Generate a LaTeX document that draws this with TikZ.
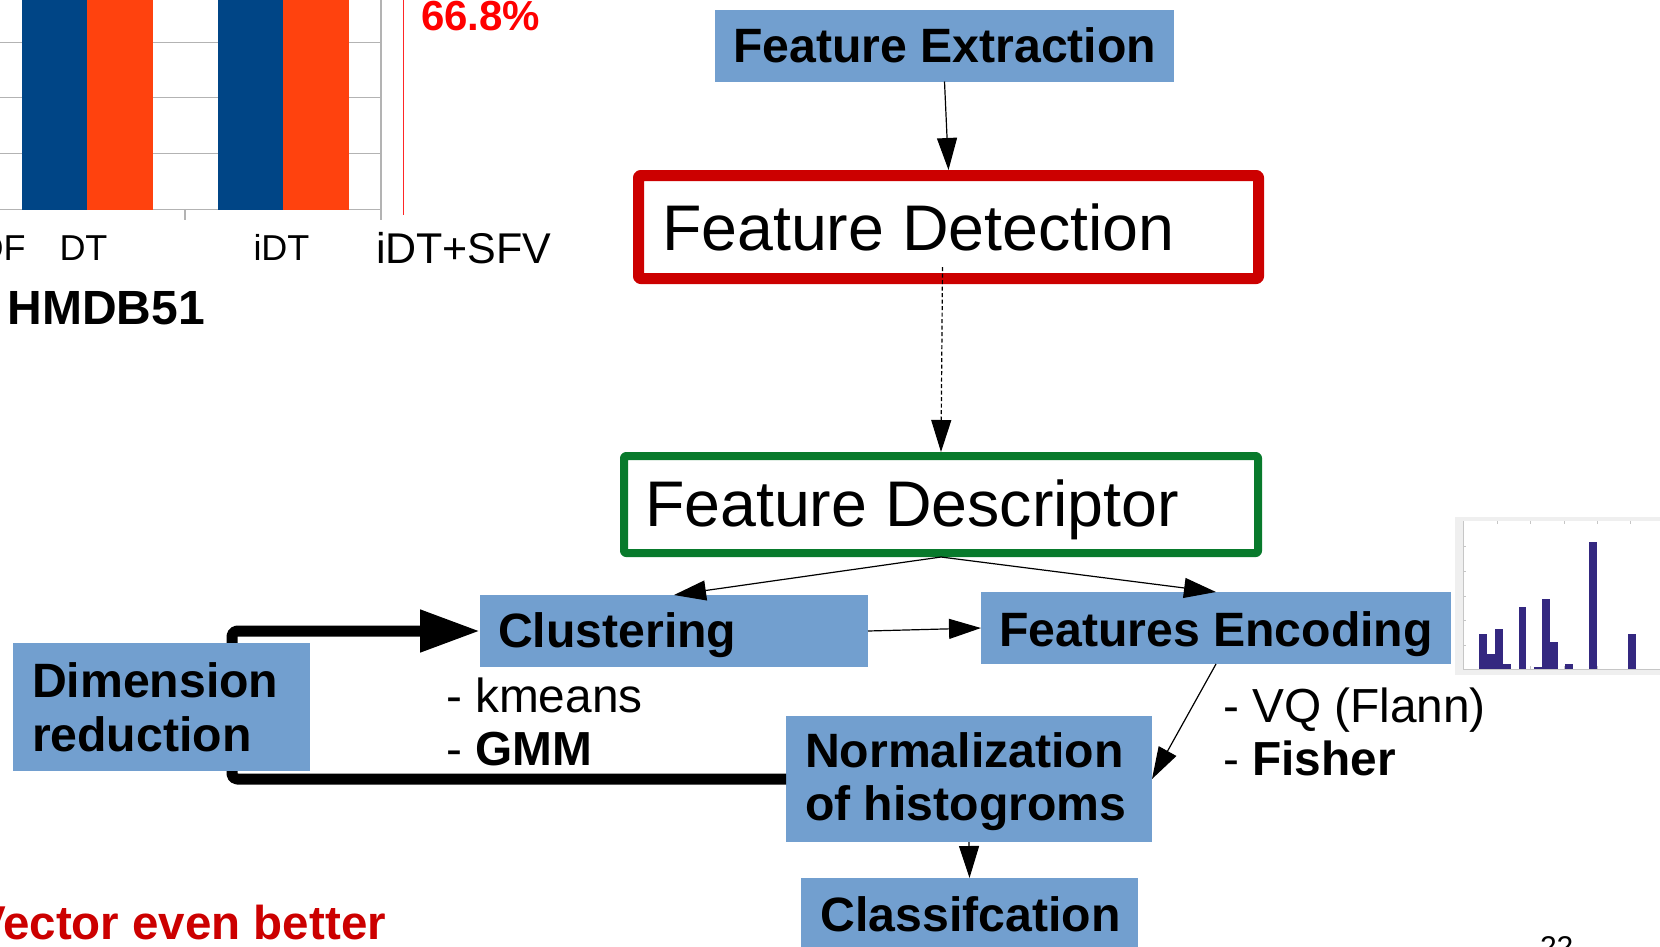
\documentclass[tikz,border=0pt]{standalone}
\usepackage{fontspec}
\setmainfont{Liberation Sans}
\usetikzlibrary{arrows.meta,calc}
\definecolor{boxblue}{HTML}{729FCF}
\definecolor{detred}{HTML}{CC0000}
\definecolor{descgreen}{RGB}{8,122,44}
\definecolor{barblue}{HTML}{004586}
\definecolor{barorange}{HTML}{FF420E}
\definecolor{gridgray}{HTML}{B3B3B3}
\definecolor{histbar}{RGB}{52,40,128}
\definecolor{histframe}{HTML}{EFEFEF}
\newcommand\setfs[1]{\fontsize{#1}{#1}\selectfont}
\begin{document}
\begin{tikzpicture}[x=1pt,y=-1pt,line join=round,
  blockbox/.style={fill=boxblue,draw=none,inner sep=0pt,outer sep=0pt},
  framebox/.style={draw,fill=white,rounded corners=2pt,inner sep=0pt},
  lbl/.style={anchor=base west,inner sep=0pt,outer sep=0pt},
  bigtext/.style={lbl,font=\setfs{64.5}},
  boldtext/.style={lbl,font=\setfs{48.2}\bfseries},
  plaintext/.style={lbl,font=\setfs{47.8}},
  flow/.style={-{Triangle[length=32pt,width=20pt]},line width=1.2pt},
  loopline/.style={-{Triangle[length=60pt,width=40pt]},line width=11pt,rounded corners=5pt}]
\useasboundingbox (0,0) rectangle (1660,946);

% ---- bar chart (top left) ----
\foreach \gy in {42.3,97.4,153.5}
  \draw[gridgray,line width=1.2pt] (0,\gy) -- (381,\gy);
\draw[gridgray,line width=1.2pt] (0,209.6) -- (381,209.6);
\draw[gridgray,line width=1.2pt] (381,-2) -- (381,220);
\draw[gridgray,line width=1.2pt] (185,209.6) -- (185,220);
\fill[barblue]   (22,-5)  rectangle (87,209.6);
\fill[barorange] (87,-5)  rectangle (153,209.6);
\fill[barblue]   (218,-5) rectangle (283,209.6);
\fill[barorange] (283,-5) rectangle (349,209.6);
\draw[red!85!white,line width=1pt] (403.6,-2) -- (403.6,215);
\node[lbl,anchor=base east,font=\setfs{36}] (catof) at (25.5,260) {OF};
\node[lbl,font=\setfs{36}] (catdt) at (59.5,260) {DT};
\node[lbl,font=\setfs{36}] (catidt) at (253.5,260) {iDT};
\node[lbl,font=\setfs{43}] (catsfv) at (376,263) {iDT+SFV};
\node[lbl,font=\setfs{48}\bfseries] (dataset) at (7.5,324) {HMDB51};
\node[lbl,font=\setfs{42}\bfseries,text=red] (score) at (421,30) {66.8\%};

% ---- histogram thumbnail ----
\fill[histframe] (1455,517) rectangle (1670,675);
\fill[white] (1463,521) rectangle (1670,669);
\draw[gray!45,line width=0.6pt] (1463,521) -- (1463,669) -- (1670,669);
\foreach \tx in {1497,1530,1564,1597,1630}
  \draw[gray!45,line width=0.5pt] (\tx,669) -- (\tx,666) (\tx,521) -- (\tx,524);
\foreach \ty in {546,571,596,620,645}
  \draw[gray!45,line width=0.5pt] (1463,\ty) -- (1466,\ty);
\foreach \xa/\xb/\top in {1479.3/1487.3/634.3, 1487.3/1495.3/654, 1495.3/1503.3/629.3,
    1503.3/1510.7/664, 1518.7/1526.3/607, 1534.3/1542/666.7, 1542/1550/599.3,
    1550/1557.7/642, 1565.3/1573.3/664, 1589/1596.7/542.3, 1628/1635.7/634.3}
  \fill[histbar] (\xa,\top) rectangle (\xb,669);

% ---- pipeline blocks ----
\node[blockbox,minimum width=459pt,minimum height=72pt] (ext) at (944.5,45.5) {};
\node[boldtext] (exttext) at (733,62) {Feature Extraction};

\node[framebox,draw=detred,line width=11pt,minimum width=620pt,minimum height=103pt] (det) at (948.5,227) {};
\node[bigtext] (dettext) at (662,250) {Feature Detection};

\node[framebox,draw=descgreen,line width=8pt,minimum width=634pt,minimum height=97pt] (desc) at (941,504.5) {};
\node[bigtext] (desctext) at (645,526) {Feature Descriptor};

\node[blockbox,minimum width=388pt,minimum height=72pt] (clus) at (674,631) {};
\node[boldtext] (clustext) at (498,647) {Clustering};

\node[blockbox,minimum width=470pt,minimum height=72pt] (enc) at (1216,628) {};
\node[boldtext] (enctext) at (999,646) {Features Encoding};

\node[blockbox,minimum width=366pt,minimum height=126pt] (norm) at (969,779) {};
\node[boldtext] (normtexta) at (805,767.5) {Normalization};
\node[boldtext] (normtextb) at (805,820.5) {of histogroms};

\node[blockbox,minimum width=337pt,minimum height=82pt] (cls) at (969.5,919) {};
\node[boldtext] (clstext) at (820.5,931) {Classifcation};

% feedback loop through dimension reduction (runs behind its block)
\coordinate (loopx) at (232,0);
\draw[loopline] (norm.west) -- (loopx |- norm.west) -- (loopx |- clus.west) -- (clus.west);

\node[blockbox,minimum width=297pt,minimum height=128pt] (dim) at (161.5,707) {};
\node[boldtext] (dimtexta) at (32,697.5) {Dimension};
\node[boldtext] (dimtextb) at (32,751) {reduction};

% ---- method notes ----
\node[plaintext] (kmeans) at (446,712.5) {- kmeans};
\node[plaintext] (gmm) at (446,765) {- \textbf{GMM}};
\node[plaintext] (vq) at (1223,722) {- VQ (Flann)};
\node[plaintext] (fisher) at (1223,775) {- \textbf{Fisher}};

% ---- connectors ----
\draw[flow] (ext.south) -- (det.north);
\draw[flow,dash pattern=on 4pt off 2.5pt] ($(det.south)+(-6,-17)$) -- (desc.north);
\draw[flow] (desc.south) -- (clus.north);
\draw[flow] (desc.south) -- (enc.north);
\draw[flow] (clus.east) -- (enc.west);
\draw[flow] (enc.south) -- (norm.east);
\draw[flow] (norm.south) -- (cls.north);

% ---- footer texts ----
\node[lbl,anchor=base east,font=\setfs{47.5}\bfseries,text=detred] (summary) at (386,939) {Vector even better};
\node[lbl,font=\setfs{30}] (pagenum) at (1540,957) {22};
\end{tikzpicture}
\end{document}
